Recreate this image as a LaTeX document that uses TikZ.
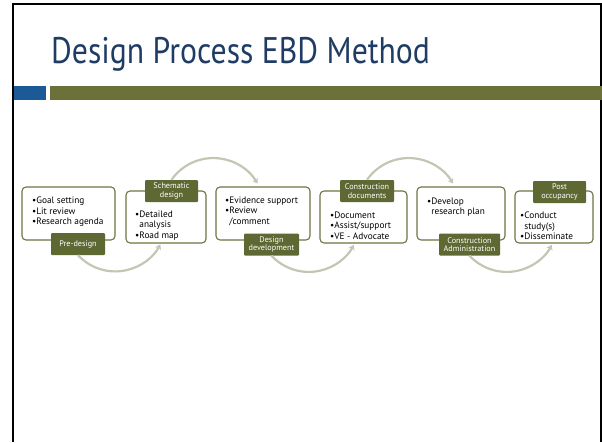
\documentclass[tikz,border=0pt]{standalone}
\usepackage{fontspec}
\setmainfont{PT Sans}
\usepackage{tikz}
\usetikzlibrary{positioning, arrows.meta}
\definecolor{olivo}{RGB}{94, 104, 50}
\definecolor{borde}{RGB}{110, 116, 66}
\definecolor{barra}{RGB}{107, 113, 57}
\definecolor{azul}{RGB}{27, 90, 150}
\definecolor{marino}{RGB}{31, 60, 100}
\definecolor{gris}{RGB}{196, 198, 180}
\newcommand{\bul}{•}
\tikzset{
    blok/.style={draw=borde, fill=white, rounded corners=4pt, line width=1.1pt, minimum height=53pt},
    tag/.style={fill=olivo, text=white, rounded corners=1pt, minimum height=22pt, inner sep=1pt, align=center, font=\fontsize{8.2}{8.5}\selectfont},
    lista/.style={anchor=north west, align=left, inner sep=0pt, font=\fontsize{9.3}{10.7}\selectfont},
    conn/.style={gris, line width=2.2pt, -{Stealth[length=5pt, width=6.5pt]}},
}
\begin{document}
\begin{tikzpicture}[x=1pt, y=-1pt]
    \useasboundingbox (0,0) rectangle (602,442);
    % frame, title and bar
    \draw[black, line width=2pt] (13,442) -- (13,4) -- (601,4) -- (601,442);
    \node[anchor=base west, inner sep=0pt, text=marino, font=\fontsize{37}{37}\selectfont] (ttl) at (51,63) {\scalebox{0.857}[1]{Design Process EBD Method}};
    \fill[azul] (14,86) rectangle (46,100);
    \fill[barra] (50,86) rectangle (602,100);

    % boxes
    \node[blok, minimum width=93pt] (b1) at (68.5,213.5) {};
    \node[blok, minimum width=80pt, minimum height=52pt] (b2) at (166,217) {};
    \node[blok, minimum width=94pt] (b3) at (263,213.5) {};
    \node[blok, minimum width=87pt, minimum height=52pt] (b4) at (363.5,217) {};
    \node[blok, minimum width=88pt] (b5) at (461,213.5) {};
    \node[blok, minimum width=78pt, minimum height=52pt] (b6) at (554,217) {};

    % texts
    \node[lista] (l1) at (32,196.5) {\bul Goal setting\\\bul Lit review\\\bul Research agenda};
    \node[lista] (l2) at (135,210.5) {\bul Detailed\\\hphantom{\bul}analysis\\\bul Road map};
    \node[lista] (l3) at (225,196.5) {\bul Evidence support\\\bul Review\\\hphantom{\bul}/comment};
    \node[lista] (l4) at (330,211.5) {\bul Document\\\bul Assist/support\\\bul VE - Advocate};
    \node[lista] (l5) at (427,197.5) {\bul Develop\\\hphantom{\bul}research plan};
    \node[lista] (l6) at (520,211.5) {\bul Conduct\\\hphantom{\bul}study(s)\\\bul Disseminate};

    % labels
    \node[tag, minimum width=54pt] (t1) at (78,244) {Pre-design};
    \node[tag, minimum width=53pt] (t2) at (171.5,191) {Schematic\\design};
    \node[tag, minimum width=55pt] (t3) at (271.5,244.5) {Design\\development};
    \node[tag, minimum width=54pt] (t4) at (367,191) {Construction\\documents};
    \node[tag, minimum width=61pt] (t5) at (469.5,244.5) {Construction\\Administration};
    \node[tag, minimum width=53pt] (t6) at (559.5,192) {Post\\occupancy};

    % arcs
    \draw[conn] (t1.south) arc[start angle=223, end angle=332, radius=51pt];
    \draw[conn] (t2.north) arc[start angle=145, end angle=30, radius=51pt];
    \draw[conn] (t3.south) arc[start angle=223, end angle=332, radius=51pt];
    \draw[conn] (t4.north) arc[start angle=145, end angle=30, radius=51pt];
    \draw[conn] (t5.south) arc[start angle=223, end angle=332, radius=51pt];
\end{tikzpicture}
\end{document}
